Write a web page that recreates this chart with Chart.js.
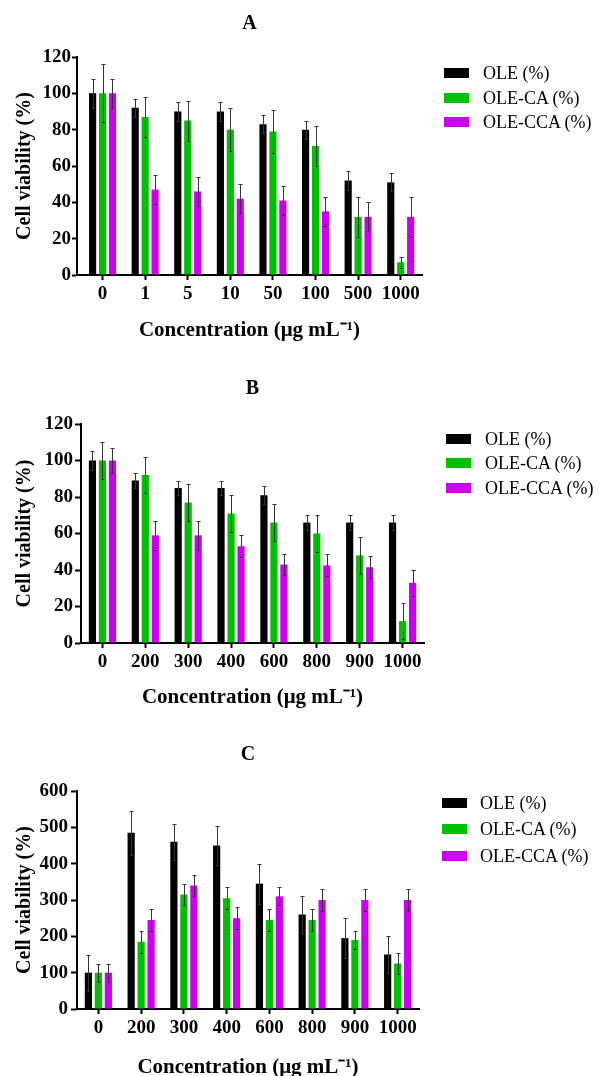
<!DOCTYPE html>
<html>
<head>
<meta charset="utf-8">
<script src="https://cdn.jsdelivr.net/npm/chart.js@4.4.1/dist/chart.umd.min.js"></script>
<style>
  html, body { margin: 0; padding: 0; background: #fff; overflow: hidden; }
  body { width: 599px; height: 1076px; position: relative; }
  canvas { position: absolute; left: 0; }
  .row { position: absolute; height: 20px; line-height: 20px; white-space: nowrap;
         font: 18px "Liberation Serif", "Times New Roman", serif; color: #000; }
  .row span { position: absolute; top: 5px; left: 0; width: 25px; height: 10px; }
  .row b { position: absolute; top: 0; font-weight: normal; }
</style>
</head>
<body>
<canvas id="chartA" width="599" height="346" style="top:0px"></canvas>
<canvas id="chartB" width="599" height="346" style="top:367px"></canvas>
<canvas id="chartC" width="599" height="349" style="top:734px"></canvas>
<script>
// label kategori & seri
const catsA = ['0', '1', '5', '10', '50', '100', '500', '1000'];
const catsBC = ['0', '200', '300', '400', '600', '800', '900', '1000'];
const seriesNames = ['OLE (%)', 'OLE-CA (%)', 'OLE-CCA (%)'];
const seriesColors = ['#000000', '#00c000', '#cc00ee'];

// panel A
const oleA = [100, 92, 90, 90, 83, 80, 52, 51];
const caA = [100, 87, 85, 80, 79, 71, 32, 7];
const ccaA = [100, 47, 46, 42, 41, 35, 32, 32];
const oleErrA = [8, 5, 5, 5, 5, 5, 5, 5];
const caErrA = [16, 11, 11, 12, 12, 11, 11, 3];
const ccaErrA = [8, 8, 8, 8, 8, 8, 8, 11];

// panel B
const oleB = [100, 89, 85, 85, 81, 66, 66, 66];
const caB = [100, 92, 77, 71, 66, 60, 48, 12];
const ccaB = [100, 59, 59, 53, 43, 42.5, 41.5, 33];
const oleErrB = [5, 4, 4, 4, 5, 4, 4, 4];
const caErrB = [10, 10, 10, 10, 10, 10, 10, 10];
const ccaErrB = [7, 8, 8, 6, 6, 6, 6, 7];

// panel C
const oleC = [100, 485, 460, 450, 345, 260, 195, 150];
const caC = [100, 185, 315, 305, 245, 245, 190, 125];
const ccaC = [100, 245, 340, 250, 310, 300, 300, 300];
const oleErrC = [50, 60, 50, 55, 55, 50, 55, 50];
const caErrC = [25, 30, 30, 30, 30, 30, 25, 30];
const ccaErrC = [25, 30, 30, 30, 25, 30, 30, 30];

Chart.defaults.font.family = '"Liberation Serif", "Times New Roman", serif';
Chart.defaults.color = '#000';

// error bar digambar lewat skala chart
const errorBars = {
  id: 'errorBars',
  afterDatasetsDraw(chart) {
    const ctx = chart.ctx;
    const yScale = chart.scales.y;
    ctx.save();
    ctx.strokeStyle = '#333';
    ctx.lineWidth = 1;
    chart.data.datasets.forEach((ds, i) => {
      chart.getDatasetMeta(i).data.forEach((bar, j) => {
        const v = ds.data[j].y, e = ds.errors[j];
        const x = Math.round(bar.x) + 0.5;
        const top = Math.round(yScale.getPixelForValue(v + e)) + 0.5;
        const bot = Math.round(yScale.getPixelForValue(Math.max(v - e, 0))) + 0.5;
        ctx.beginPath();
        ctx.moveTo(x, bot); ctx.lineTo(x, top);
        ctx.moveTo(x - 2, top); ctx.lineTo(x + 2, top);
        ctx.moveTo(x - 1.5, bot); ctx.lineTo(x + 1.5, bot);
        ctx.stroke();
      });
    });
    ctx.restore();
  }
};

function buatPanel(p) {
  new Chart(document.getElementById(p.id), {
    type: 'bar',
    data: {
      datasets: p.series.map((vals, i) => ({
        label: seriesNames[i],
        data: vals.map((v, k) => ({ x: k, y: v })),
        errors: p.errors[i],
        backgroundColor: seriesColors[i],
        borderWidth: 0,
        categoryPercentage: 0.7,
        barPercentage: 0.72
      }))
    },
    options: {
      responsive: false,
      animation: false,
      layout: { padding: { left: 0, right: 599 - p.right, top: 0, bottom: 0 } },
      plugins: {
        legend: { display: false },
        tooltip: { enabled: false },
        title: {
          display: true, fullSize: false, text: p.title, color: '#000',
          font: { size: 20, weight: 'bold' },
          padding: { top: p.titlePad, bottom: 57 - p.titlePad - 24 }
        }
      },
      scales: {
        x: {
          type: 'linear', min: p.xMin, max: p.xMax, bounds: 'data', offset: false,
          afterBuildTicks: a => { a.ticks = p.cats.map((c, k) => ({ value: k })); },
          afterFit: a => { a.height = p.axisH; },
          ticks: {
            callback: v => p.cats[v], autoSkip: false, maxRotation: 0,
            font: { size: 19, weight: 'bold' }, color: '#000', padding: 3
          },
          grid: { display: true, offset: false, drawOnChartArea: false, tickLength: 5, tickWidth: 2, tickColor: '#000' },
          border: { color: '#000', width: 2 },
          title: {
            display: true, text: 'Concentration (μg mL⁻¹)', color: '#000',
            font: { size: 21, weight: 'bold' }, padding: { top: 0, bottom: 3 }
          }
        },
        y: {
          min: 0, max: p.yMax,
          afterFit: a => { a.width = p.left; },
          ticks: { stepSize: p.yStep, font: { size: 19, weight: 'bold' }, color: '#000', padding: p.tickPad },
          grid: { display: true, drawOnChartArea: false, tickLength: p.tickLen, tickWidth: 2, tickColor: '#000' },
          border: { color: '#000', width: 2 },
          title: {
            display: true, text: 'Cell viability (%)', color: '#000',
            font: { size: 20, weight: 'bold' }, padding: { top: 13, bottom: 0 }
          }
        }
      }
    },
    plugins: [errorBars]
  });

  // legenda html
  seriesNames.forEach((nama, i) => {
    const row = document.createElement('div');
    row.className = 'row';
    row.style.left = p.legX + 'px';
    row.style.top = (p.legRows[i] - 10) + 'px';
    row.innerHTML = `<span style="background:${seriesColors[i]}"></span><b style="left:${p.legTextDx}px">${nama}</b>`;
    document.body.appendChild(row);
  });
}

buatPanel({
  id: 'chartA', title: 'A', cats: catsA,
  series: [oleA, caA, ccaA], errors: [oleErrA, caErrA, ccaErrA],
  yMax: 120, yStep: 20, left: 77, right: 422, xMin: -0.6, xMax: 7.5,
  titlePad: 12, axisH: 71, tickLen: 5, tickPad: 1,
  legX: 444, legTextDx: 39, legRows: [73, 98, 122]
});

buatPanel({
  id: 'chartB', title: 'B', cats: catsBC,
  series: [oleB, caB, ccaB], errors: [oleErrB, caErrB, ccaErrB],
  yMax: 120, yStep: 20, left: 81, right: 424, xMin: -0.5, xMax: 7.5,
  titlePad: 10, axisH: 70, tickLen: 6, tickPad: 2,
  legX: 446, legTextDx: 39, legRows: [439, 463, 488]
});

buatPanel({
  id: 'chartC', title: 'C', cats: catsBC,
  series: [oleC, caC, ccaC], errors: [oleErrC, caErrC, ccaErrC],
  yMax: 600, yStep: 100, left: 77, right: 419, xMin: -0.5, xMax: 7.5,
  titlePad: 9, axisH: 74, tickLen: 6, tickPad: 3,
  legX: 442, legTextDx: 38, legRows: [803, 829, 856]
});
</script>
</body>
</html>
